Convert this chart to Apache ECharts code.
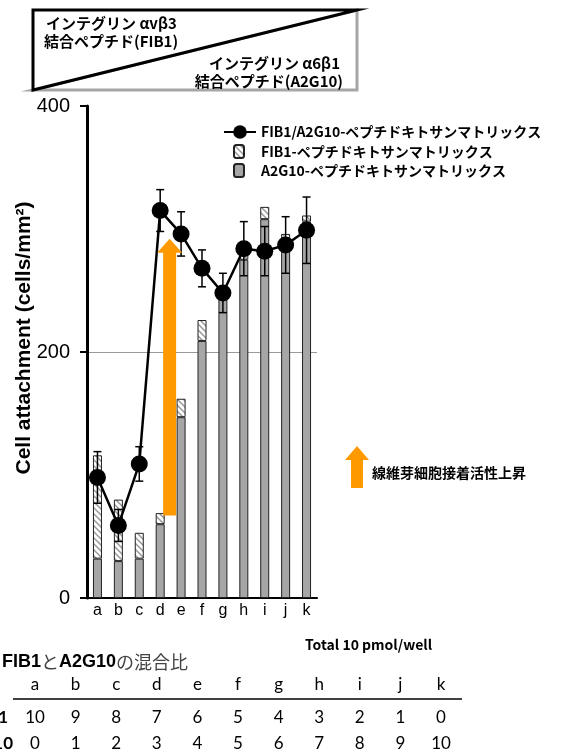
<!DOCTYPE html>
<html>
<head>
<meta charset="utf-8">
<script src="https://cdn.jsdelivr.net/npm/echarts@6/dist/echarts.min.js"></script>
<style>
html, body { margin: 0; padding: 0; background: #fff; }
#chart { width: 565px; height: 753px; }
</style>
</head>
<body>
<div id="chart"></div>
<script>
// データ
const categories = ['a', 'b', 'c', 'd', 'e', 'f', 'g', 'h', 'i', 'j', 'k']
const mixValues = [98, 59, 109, 315, 296, 268, 248, 284, 282, 287, 299]
const mixErrors = [21, 13, 14, 17, 18, 15, 16, 22, 20, 23, 27]
const a2g10Values = [32, 30, 32, 60, 147, 209, 243, 275, 308, 292, 306]
const fib1Values = [84, 50, 21, 9, 15, 17, 3, 5, 10, 4, 5]
const fib1Ratio = [10, 9, 8, 7, 6, 5, 4, 3, 2, 1, 0]
const a2g10Ratio = [0, 1, 2, 3, 4, 5, 6, 7, 8, 9, 10]
const yTicks = [0, 200, 400]
const arrowRange = [67, 292] // オレンジ矢印の下端・上端

const nameMix = 'FIB1/A2G10-ペプチドキトサンマトリックス'
const nameFib = 'FIB1-ペプチドキトサンマトリックス'
const nameA2g = 'A2G10-ペプチドキトサンマトリックス'
const jp = '"Noto Sans CJK JP", "Noto Sans", sans-serif'
const orange = '#ff9900'

// 斜線パターン
function makeHatch () {
  const c = document.createElement('canvas')
  c.width = 6
  c.height = 6
  const ctx = c.getContext('2d')
  ctx.fillStyle = '#fff'
  ctx.fillRect(0, 0, 6, 6)
  ctx.strokeStyle = '#999'
  ctx.lineWidth = 1.5
  ctx.beginPath()
  ctx.moveTo(-1, -1); ctx.lineTo(7, 7)
  ctx.moveTo(-1, 5); ctx.lineTo(1, 7)
  ctx.moveTo(5, -1); ctx.lineTo(7, 1)
  ctx.stroke()
  return c
}
const hatch = { image: makeHatch(), repeat: 'repeat' }

const chart = echarts.init(document.getElementById('chart'))

// 下の表
const colX = categories.map((c, i) => 35 + i * 40.6)
const tableItems = []
categories.forEach((c, i) => {
  tableItems.push({ type: 'text', x: colX[i], y: 685, style: { text: c, font: '17px Lato', fill: '#000', align: 'center', verticalAlign: 'middle' } })
  tableItems.push({ type: 'text', x: colX[i], y: 718, style: { text: String(fib1Ratio[i]), font: '17px Lato', fill: '#000', align: 'center', verticalAlign: 'middle' } })
  tableItems.push({ type: 'text', x: colX[i], y: 744, style: { text: String(a2g10Ratio[i]), font: '17px Lato', fill: '#000', align: 'center', verticalAlign: 'middle' } })
})

const boxText = (text, x, y, align) => ({
  type: 'text', x: x, y: y,
  style: { text: text, font: 'bold 15px ' + jp, fill: '#000', align: align, verticalAlign: 'middle' }
})

const option = {
  animation: false,
  textStyle: { fontFamily: jp },
  grid: { left: 87, right: 248, top: 106, bottom: 155 },
  legend: [
    {
      data: [nameMix],
      left: 218,
      top: 120,
      itemWidth: 32,
      itemHeight: 17,
      textStyle: { fontSize: 14, fontWeight: 'bold', color: '#000', padding: [0, 0, 0, 0] }
    },
    {
      data: [nameFib, nameA2g],
      orient: 'vertical',
      left: 228,
      top: 139,
      itemWidth: 10,
      itemHeight: 13,
      itemGap: 4,
      textStyle: { fontSize: 14, fontWeight: 'bold', color: '#000', padding: [0, 0, 0, 12] }
    }
  ],
  xAxis: {
    type: 'category',
    data: categories,
    axisLine: { lineStyle: { color: '#000', width: 2 } },
    axisTick: { show: false },
    axisLabel: { fontSize: 16, color: '#000', margin: 5, fontFamily: 'Liberation Sans' }
  },
  yAxis: {
    type: 'value',
    min: yTicks[0],
    max: yTicks[yTicks.length - 1],
    interval: yTicks[1] - yTicks[0],
    axisLine: { show: true, lineStyle: { color: '#000', width: 3 } },
    axisTick: { show: true, length: 7, lineStyle: { color: '#000', width: 2 } },
    axisLabel: { fontSize: 20, color: '#000', margin: 17, fontFamily: 'Liberation Sans' },
    splitLine: { show: true, lineStyle: { color: ['transparent', '#9a9a9a', 'transparent'], width: 1 } }
  },
  series: [
    {
      name: nameA2g,
      type: 'bar',
      stack: 'total',
      barWidth: 9,
      data: a2g10Values,
      itemStyle: { color: '#a6a6a6', borderColor: '#222', borderWidth: 1 },
      z: 2
    },
    {
      name: nameFib,
      type: 'bar',
      stack: 'total',
      barWidth: 9,
      data: fib1Values,
      itemStyle: { color: hatch, borderColor: '#222', borderWidth: 1 },
      z: 2
    },
    {
      name: 'err',
      type: 'custom',
      z: 3,
      encode: { x: 0, y: [1, 2] },
      data: categories.map((c, i) => [i, mixValues[i] - mixErrors[i], mixValues[i] + mixErrors[i]]),
      renderItem: (params, api) => {
        const top = api.coord([api.value(0), api.value(2)])
        const bot = api.coord([api.value(0), api.value(1)])
        const w = 4
        const st = { stroke: '#000', lineWidth: 1.5 }
        return {
          type: 'group',
          children: [
            { type: 'line', shape: { x1: top[0], y1: top[1], x2: bot[0], y2: bot[1] }, style: st },
            { type: 'line', shape: { x1: top[0] - w, y1: top[1], x2: top[0] + w, y2: top[1] }, style: st },
            { type: 'line', shape: { x1: bot[0] - w, y1: bot[1], x2: bot[0] + w, y2: bot[1] }, style: st }
          ]
        }
      }
    },
    {
      name: nameMix,
      type: 'line',
      data: mixValues,
      symbol: 'circle',
      symbolSize: 17,
      itemStyle: { color: '#000' },
      lineStyle: { color: '#000', width: 2.5 },
      z: 4
    }
  ],
  graphic: [
    // 上のボックス
    { type: 'polygon', shape: { points: [[33, 90], [357, 10], [357, 90]] }, style: { fill: '#fff', stroke: '#a6a6a6', lineWidth: 3 } },
    { type: 'polygon', shape: { points: [[33, 10], [357, 10], [33, 90]] }, style: { fill: '#fff', stroke: '#000', lineWidth: 3 } },
    boxText('インテグリン αvβ3', 46, 23, 'left'),
    boxText('結合ペプチド(FIB1)', 44, 41, 'left'),
    boxText('インテグリン α6β1', 340, 63, 'right'),
    boxText('結合ペプチド(A2G10)', 343, 81, 'right'),
    // y軸タイトル
    {
      type: 'text', x: 24, y: 338, rotation: Math.PI / 2,
      style: { text: 'Cell attachment (cells/mm²)', font: 'bold 21px "Liberation Sans", Arial', fill: '#000', align: 'center', verticalAlign: 'middle' }
    },
    // 凡例の矢印
    { type: 'polygon', shape: { points: [[345, 460], [357, 446], [369, 460], [363, 460], [363, 488], [351, 488], [351, 460]] }, style: { fill: orange } },
    { type: 'text', x: 372, y: 473, style: { text: '線維芽細胞接着活性上昇', font: 'bold 14px ' + jp, fill: '#000', align: 'left', verticalAlign: 'middle' } },
    // 表
    { type: 'text', x: 305, y: 645, style: { text: 'Total 10 pmol/well', font: 'bold 14px ' + jp, fill: '#000', align: 'left', verticalAlign: 'middle' } },
    {
      type: 'text', x: 2, y: 662,
      style: {
        text: '{b|FIB1}{n|と}{b|A2G10}{n|の混合比}',
        verticalAlign: 'middle',
        rich: {
          b: { font: 'bold 18px "Liberation Sans", Arial', fill: '#000' },
          n: { font: '18px ' + jp, fill: '#444' }
        }
      }
    },
    { type: 'line', shape: { x1: 13, y1: 699, x2: 462, y2: 699 }, style: { stroke: '#000', lineWidth: 1.5 } },
    { type: 'text', x: 8, y: 718, style: { text: 'FIB1', font: 'bold 17px Lato', fill: '#000', align: 'right', verticalAlign: 'middle' } },
    { type: 'text', x: 13, y: 744, style: { text: 'A2G10', font: 'bold 17px Lato', fill: '#000', align: 'right', verticalAlign: 'middle' } }
  ].concat(tableItems)
}
chart.setOption(option)

// 大きいオレンジ矢印 (d と e の間)
const pd = chart.convertToPixel({ seriesIndex: 0 }, [3, arrowRange[0]])
const pe = chart.convertToPixel({ seriesIndex: 0 }, [4, arrowRange[1]])
const cx = (pd[0] + pe[0]) / 2 - 1
const yb = pd[1]
const yt = pe[1]
const sw = 6.5
const hw = 12.5
const hh = 14
option.graphic.push({
  type: 'polygon',
  z: 10,
  shape: {
    points: [[cx - hw, yt + hh], [cx, yt], [cx + hw, yt + hh], [cx + sw, yt + hh], [cx + sw, yb], [cx - sw, yb], [cx - sw, yt + hh]]
  },
  style: { fill: orange }
})
chart.setOption({ graphic: option.graphic })
</script>
</body>
</html>
